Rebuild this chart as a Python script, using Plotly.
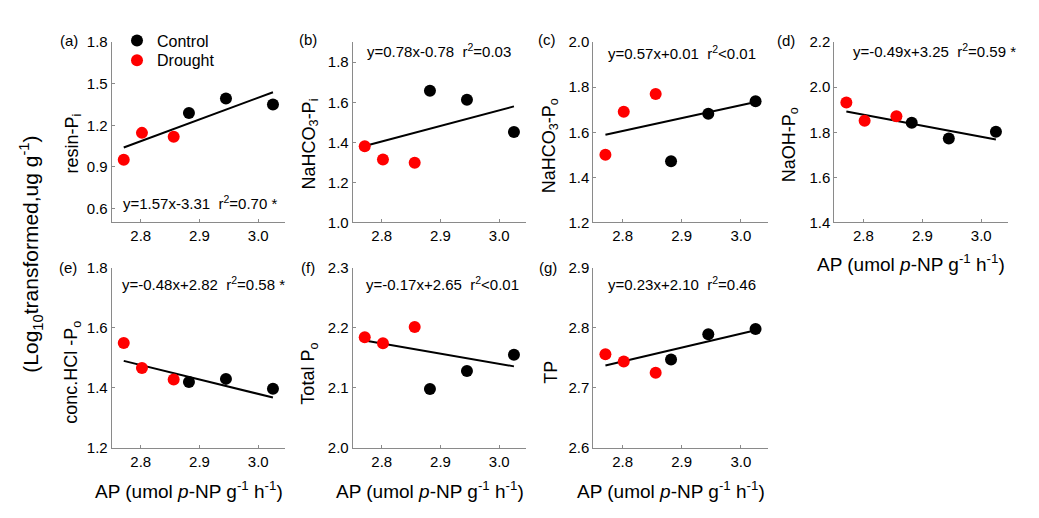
import plotly.graph_objects as go

W, H = 1039, 518

# ---------------- data ----------------
ap_drought = [2.771, 2.802, 2.856]
ap_control = [2.882, 2.945, 3.025]

resin_pi_drought = [0.953, 1.146, 1.118]
resin_pi_control = [1.289, 1.394, 1.350]
nahco3_pi_drought = [1.381, 1.314, 1.298]
nahco3_pi_control = [1.658, 1.613, 1.452]
nahco3_po_drought = [1.500, 1.691, 1.770]
nahco3_po_control = [1.472, 1.682, 1.738]
naoh_po_drought = [1.932, 1.851, 1.871]
naoh_po_control = [1.842, 1.773, 1.803]
hcl_po_drought = [1.549, 1.466, 1.428]
hcl_po_control = [1.420, 1.430, 1.397]
total_po_drought = [2.184, 2.174, 2.201]
total_po_control = [2.098, 2.128, 2.155]
tp_drought = [2.756, 2.744, 2.725]
tp_control = [2.747, 2.789, 2.798]

panel_letters = ["(a)", "(b)", "(c)", "(d)", "(e)", "(f)", "(g)"]
y_titles = ["resin-P<sub>i</sub>", "NaHCO<sub>3</sub>-P<sub>i</sub>", "NaHCO<sub>3</sub>-P<sub>o</sub>",
            "NaOH-P<sub>o</sub>", "conc.HCl -P<sub>o</sub>", "Total P<sub>o</sub>", "TP"]
slopes = [1.57, 0.78, 0.57, -0.49, -0.48, -0.17, 0.23]
intercepts = [-3.31, -0.78, 0.01, 3.25, 2.82, 2.65, 2.10]
equations = ["y=1.57x-3.31\u00a0\u00a0r<sup>2</sup>=0.70 *",
             "y=0.78x-0.78\u00a0\u00a0r<sup>2</sup>=0.03",
             "y=0.57x+0.01\u00a0\u00a0r<sup>2</sup>&lt;0.01",
             "y=-0.49x+3.25\u00a0\u00a0r<sup>2</sup>=0.59 *",
             "y=-0.48x+2.82\u00a0\u00a0r<sup>2</sup>=0.58 *",
             "y=-0.17x+2.65\u00a0\u00a0r<sup>2</sup>&lt;0.01",
             "y=0.23x+2.10\u00a0\u00a0r<sup>2</sup>=0.46"]
y_ticks = [[0.6, 0.9, 1.2, 1.5, 1.8], [1.0, 1.2, 1.4, 1.6, 1.8], [1.2, 1.4, 1.6, 1.8, 2.0],
           [1.4, 1.6, 1.8, 2.0, 2.2], [1.2, 1.4, 1.6, 1.8], [2.0, 2.1, 2.2, 2.3], [2.6, 2.7, 2.8, 2.9]]
y_ranges = [[0.5, 1.8], [1.0, 1.9], [1.2, 2.0], [1.4, 2.2], [1.2, 1.8], [2.0, 2.3], [2.6, 2.9]]
x_ticks = [2.8, 2.9, 3.0]
x_range = [2.7505, 3.0455]
x_title = "AP (umol <i>p</i>-NP g<sup>-1</sup> h<sup>-1</sup>)"
global_y_title = "(Log<sub>10</sub>transformed,ug g<sup>-1</sup>)"

drought_sets = [resin_pi_drought, nahco3_pi_drought, nahco3_po_drought, naoh_po_drought,
                hcl_po_drought, total_po_drought, tp_drought]
control_sets = [resin_pi_control, nahco3_pi_control, nahco3_po_control, naoh_po_control,
                hcl_po_control, total_po_control, tp_control]

# ---------------- layout geometry (pixels) ----------------
col_px = [(111.7, 285.0), (352.7, 526.0), (593.3, 767.7), (834.3, 1008.0)]
row_px = [(34.3, 220.7), (267.3, 454.0)]
cells = [(0, 0), (0, 1), (0, 2), (0, 3), (1, 0), (1, 1), (1, 2)]

ytitle_pos = [(73, 139), (310, 140), (550, 142), (790, 141), (73, 376), (310, 377), (551, 376)]
letter_pos = [(69, 33), (308, 32), (547, 32), (786, 33), (68, 267), (308, 267), (548, 267)]
eq_pos = [(200, 200), (439, 43), (682, 45), (934, 43), (203, 284), (442, 284), (682, 284)]
xtitle_pos = [(911, 263), (189, 497), (430, 497), (671, 497)]


def px(x):
    return x / W


def py(y):
    return 1 - y / H


FONT = "Liberation Sans, Arial, sans-serif"
AXIS_COLOR = "#8a8a8a"

fig = go.Figure()
legend_common = dict(xanchor="left", yanchor="top", font=dict(size=16, family=FONT),
                     bgcolor="rgba(0,0,0,0)", itemsizing="trace")
layout = dict(
    width=W, height=H,
    margin=dict(l=0, r=0, t=0, b=0),
    paper_bgcolor="white", plot_bgcolor="white",
    font=dict(family=FONT, size=15, color="black"),
    showlegend=True,
    legend=dict(x=px(117), y=py(15), **legend_common),
    legend2=dict(x=px(117), y=py(35.5), **legend_common),
)

annotations = []
xmin = min(ap_drought + ap_control)
xmax = max(ap_drought + ap_control)

for i, (r, c) in enumerate(cells):
    n = "" if i == 0 else str(i + 1)
    xa, ya = "x" + n, "y" + n
    x0, x1 = col_px[c]
    y0, y1 = row_px[r]
    layout["xaxis" + n] = dict(
        domain=[px(x0), px(x1)], anchor=ya, range=x_range,
        tickvals=x_ticks, ticktext=[f"{v:.1f}" for v in x_ticks],
        ticks="inside", ticklen=3, tickcolor=AXIS_COLOR, showline=True,
        linecolor=AXIS_COLOR, linewidth=1, showgrid=False, zeroline=False,
        tickfont=dict(size=15, family=FONT), fixedrange=True,
    )
    layout["yaxis" + n] = dict(
        domain=[py(y1), py(y0)], anchor=xa, range=y_ranges[i],
        tickvals=y_ticks[i], ticktext=[f"{v:.1f}" for v in y_ticks[i]],
        ticks="inside", ticklen=3, tickcolor=AXIS_COLOR, showline=True,
        linecolor=AXIS_COLOR, linewidth=1, showgrid=False, zeroline=False,
        tickfont=dict(size=15, family=FONT), fixedrange=True,
    )
    # regression line
    m, b = slopes[i], intercepts[i]
    fig.add_trace(go.Scatter(x=[xmin, xmax], y=[m * xmin + b, m * xmax + b], mode="lines",
                             line=dict(color="black", width=2), xaxis=xa, yaxis=ya,
                             showlegend=False, hoverinfo="skip"))
    fig.add_trace(go.Scatter(x=ap_control, y=control_sets[i], mode="markers", name="Control",
                             marker=dict(color="black", size=12), xaxis=xa, yaxis=ya,
                             showlegend=(i == 0), legend="legend"))
    fig.add_trace(go.Scatter(x=ap_drought, y=drought_sets[i], mode="markers", name="Drought",
                             marker=dict(color="#ff0000", size=12), xaxis=xa, yaxis=ya,
                             showlegend=(i == 0), legend="legend2"))

    tx, ty = ytitle_pos[i]
    annotations.append(dict(text=y_titles[i], x=px(tx), y=py(ty), xref="paper", yref="paper",
                            textangle=-90, showarrow=False, xanchor="center", yanchor="middle",
                            font=dict(size=18, family=FONT)))
    lx, ly = letter_pos[i]
    annotations.append(dict(text=panel_letters[i], x=px(lx), y=py(ly), xref="paper", yref="paper",
                            showarrow=False, xanchor="center", yanchor="middle",
                            font=dict(size=15, family=FONT)))
    ex, ey = eq_pos[i]
    annotations.append(dict(text=equations[i], x=px(ex), y=py(ey), xref="paper", yref="paper",
                            showarrow=False, xanchor="center", yanchor="middle",
                            font=dict(size=15, family=FONT)))

for (tx, ty) in xtitle_pos:
    annotations.append(dict(text=x_title, x=px(tx), y=py(ty), xref="paper", yref="paper",
                            showarrow=False, xanchor="center", yanchor="middle",
                            font=dict(size=19, family=FONT)))

annotations.append(dict(text=global_y_title, x=px(31), y=py(254), xref="paper", yref="paper",
                        textangle=-90, showarrow=False, xanchor="center", yanchor="middle",
                        font=dict(size=21, family=FONT)))

layout["annotations"] = annotations
fig.update_layout(**layout)
fig.write_html("out.html", config={"displayModeBar": False})
